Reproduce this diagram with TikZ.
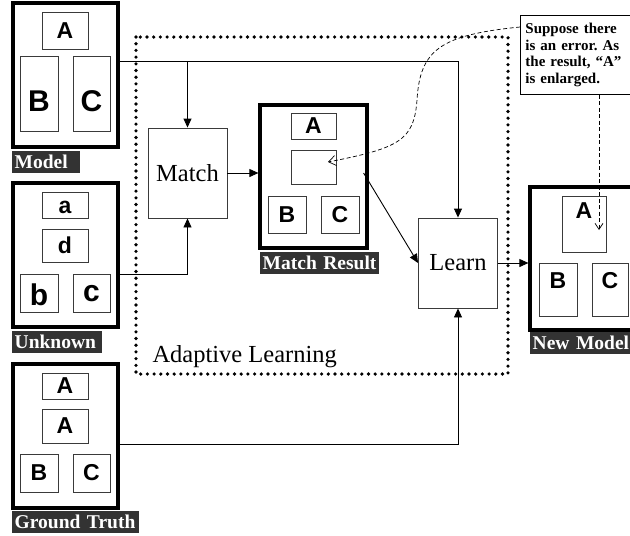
\documentclass[tikz,border=0pt]{standalone}
\usepackage{fontspec}
\setmainfont{Liberation Serif}
\newfontfamily\partfont{Liberation Sans}
\usepackage{tikz}
\usetikzlibrary{arrows.meta}
\frenchspacing

\definecolor{tagbg}{HTML}{333333}
\definecolor{partline}{HTML}{3A3A3A}

\tikzset{
  frame/.style={draw=black, line width=3.2pt, fill=white, inner sep=0pt},
  part/.style={draw=partline, line width=0.9pt, fill=white, inner sep=0pt},
  letter/.style={font=\partfont\bfseries\fontsize{23}{23}\selectfont},
  bigletter/.style={font=\partfont\bfseries\fontsize{30}{30}\selectfont},
  tag/.style={fill=tagbg, text=white, anchor=north west, align=left,
    inner xsep=2.5pt, inner ysep=0pt, minimum height=21.5pt,
    font=\bfseries\fontsize{19.5}{20}\selectfont},
  procbox/.style={draw=partline, line width=0.9pt, minimum width=79pt,
    minimum height=90pt, font=\fontsize{24.5}{26}\selectfont},
  note/.style={draw, line width=0.9pt, fill=white, anchor=north west,
    align=left, text width=112pt, inner xsep=5pt, inner ysep=7.5pt,
    font=\bfseries\fontsize{15}{16.7}\selectfont},
  link/.style={line width=0.9pt, -{Triangle[length=9pt,width=8pt]}},
  hint/.style={line width=0.7pt, dash pattern=on 4pt off 2.5pt,
    -{Straight Barb[length=7pt,width=10pt]}},
  zone/.style={line width=3.6pt, line cap=round, dash pattern=on 0pt off 6.7pt}
}

\begin{document}
\begin{tikzpicture}[x=1pt,y=-1pt]
\useasboundingbox (0,0) rectangle (630,536);
\clip (0,0) rectangle (630,536);

% adaptive learning zone
\draw[zone] (136,37) rectangle (508,374);
\node[anchor=base west, font=\fontsize{24.5}{26}\selectfont] (zonename) at (149,362) {Adaptive Learning};

% model
\node[frame, minimum width=105pt, minimum height=144pt] (model) at (65.5,75) {};
\node[part, minimum width=46pt, minimum height=37pt, label={[letter]center:A}] (mA) at (65,30.5) {};
\node[part, minimum width=38pt, minimum height=75pt, label={[bigletter,yshift=-8pt]center:B}] (mB) at (39,93.5) {};
\node[part, minimum width=37pt, minimum height=75pt, label={[bigletter,yshift=-8pt]center:C}] (mC) at (91.5,93.5) {};
\node[tag, text width=63pt] (modeltag) at (12,151) {Model};

% unknown
\node[frame, minimum width=105pt, minimum height=144pt] (unknown) at (65.5,255) {};
\node[part, minimum width=46pt, minimum height=26pt, label={[letter,yshift=-2pt]center:a}] (ua) at (65,205) {};
\node[part, minimum width=46pt, minimum height=33pt, label={[letter]center:d}] (ud) at (65,245.5) {};
\node[part, minimum width=38pt, minimum height=38pt, label={[bigletter,yshift=-2pt]center:b}] (ub) at (39,293) {};
\node[part, minimum width=37pt, minimum height=38pt, label={[bigletter,yshift=-1pt]center:c}] (uc) at (91.5,293) {};
\node[tag, text width=85pt] (unknowntag) at (12,331) {Unknown};

% ground truth
\node[frame, minimum width=105pt, minimum height=144pt] (truth) at (65.5,436) {};
\node[part, minimum width=46pt, minimum height=26pt, label={[letter]center:A}] (gA) at (65,386) {};
\node[part, minimum width=46pt, minimum height=34pt, label={[letter]center:A}] (gAA) at (65,426) {};
\node[part, minimum width=38pt, minimum height=38pt, label={[letter]center:B}] (gB) at (39,473) {};
\node[part, minimum width=37pt, minimum height=38pt, label={[letter]center:C}] (gC) at (91.5,473) {};
\node[tag, text width=122pt] (truthtag) at (12,511) {Ground Truth};

% match and learn
\node[procbox] (match) at (187.5,173) {Match};
\node[procbox] (learn) at (458,263) {Learn};

% match result
\node[frame, minimum width=107pt, minimum height=143pt] (result) at (313.5,176.5) {};
\node[part, minimum width=45pt, minimum height=26pt, label={[letter]center:A}] (rA) at (313.5,126) {};
\node[part, minimum width=45pt, minimum height=34pt] (rE) at (313.5,167) {};
\node[part, minimum width=38pt, minimum height=37pt, label={[letter]center:B}] (rB) at (287,214.5) {};
\node[part, minimum width=38pt, minimum height=37pt, label={[letter]center:C}] (rC) at (340,214.5) {};
\node[tag, text width=114pt] (resulttag) at (260,252) {Match Result};

% new model
\node[frame, minimum width=107pt, minimum height=143pt] (newmodel) at (583.5,258.5) {};
\node[part, minimum width=44pt, minimum height=56pt, label={[letter,yshift=13pt]center:A}] (nA) at (584,224) {};
\node[part, minimum width=38pt, minimum height=53pt, label={[letter,yshift=9pt]center:B}] (nB) at (558,289.5) {};
\node[part, minimum width=36pt, minimum height=53pt, label={[letter,yshift=9pt]center:C}] (nC) at (610,289.5) {};
\node[tag, text width=100pt] (newtag) at (530,332) {New Model};

% connectors
\draw[link] ([yshift=14pt]model.east) coordinate (mtap) -| (learn.north);
\draw[link] (match.north |- mtap) -- (match.north);
\draw[link] ([yshift=-19pt]unknown.east) -| (match.south);
\draw[link] ([yshift=-8pt]truth.east) -| (learn.south);
\draw[link] (match.east) -- (match.east -| result.west);
\draw[link] ([xshift=-5pt,yshift=3.5pt]result.east) -- (learn.west);
\draw[link] (learn.east) -- (learn.east -| newmodel.west);

% the error note
\node[note] (note) at (520,15) {Suppose there\\is an error. As\\the result, “A”\\is enlarged.};
\draw[hint] ([yshift=-12pt]note.north west) .. controls (440,35) and (420,50) .. (417,100)
  .. controls (414,140) and (400,148) .. ([xshift=14.5pt,yshift=5pt]rE.center);
\coordinate (grow) at (599,230);
\draw[hint, -{Straight Barb[length=6pt,width=8pt]}] (grow |- note.south) -- (grow);
\end{tikzpicture}
\end{document}
